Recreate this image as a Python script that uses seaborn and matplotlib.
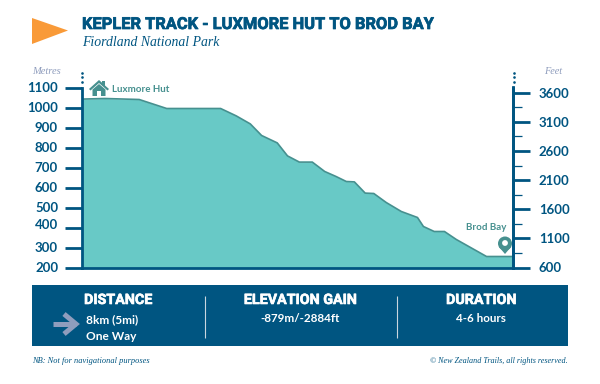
import matplotlib
matplotlib.use("Agg")
import matplotlib.pyplot as plt
import matplotlib.patheffects as pe
import seaborn as sns
import pandas as pd
from matplotlib.patches import Polygon, Rectangle, Circle
from matplotlib.transforms import ScaledTranslation

title = "KEPLER TRACK - LUXMORE HUT TO BROD BAY"
subtitle = "Fiordland National Park"
distance_km = [0, 0.42, 1.06, 1.57, 2.57, 2.86, 3.12, 3.33, 3.62, 3.81, 4.03, 4.27, 4.5, 4.71, 4.9, 5.05,
               5.25, 5.41, 5.64, 5.92, 6.22, 6.33, 6.53, 6.72, 6.94, 7.5, 8.0]
elevation_m = [1042, 1045, 1040, 995, 995, 958, 918, 860, 823, 758, 727, 727, 680, 655, 630, 628,
               572, 570, 525, 480, 450, 405, 380, 380, 340, 255, 255]
metre_ticks = [200, 300, 400, 500, 600, 700, 800, 900, 1000, 1100]
feet_major = [600, 1100, 1600, 2100, 2600, 3100, 3600]
feet_minor = [850, 1350, 1850, 2350, 2850, 3350]
panel_heads = ["DISTANCE", "ELEVATION GAIN", "DURATION"]
panel_lines = [["8km (5mi)", "One Way"], ["-879m/-2884ft"], ["4-6 hours"]]

NAVY = "#005581"
TEAL = "#68C9C6"
DARK_TEAL = "#46908F"
ORANGE = "#F99A38"
GREY = "#8F9DBD"
SANS = "Lato"
HEAVY = "Roboto"
SERIF = "Liberation Serif"

sns.set_theme(style="white")
plt.rcParams["font.family"] = [SANS, "DejaVu Sans"]

W, H = 600, 384
fig = plt.figure(figsize=(6, 3.84), dpi=100, facecolor="white")
L, R, T, B = 82.0, 513.5, 87.5, 267.5
ax = fig.add_axes([L / W, 1 - B / H, (R - L) / W, (B - T) / H])
df = pd.DataFrame({"km": distance_km, "m": elevation_m})
ax.fill_between(df["km"], df["m"], 200, color=TEAL, lw=0, zorder=1)
sns.lineplot(data=df, x="km", y="m", ax=ax, color=DARK_TEAL, lw=1.2, zorder=2, errorbar=None, sort=False)
ax.set_xlim(0, 8)
ax.set_ylim(200, 1100)
ax.set_xticks([])
ax.set_xlabel("")
ax.set_ylabel("")
ax.set_yticks(metre_ticks)
ax.set_yticklabels([str(t) for t in metre_ticks])
ax.tick_params(axis="y", length=12.2, width=2, color=NAVY, labelcolor=NAVY, pad=5, left=True, labelsize=9.5)
for lab in ax.get_yticklabels():
    lab.set_fontweight("bold")
    lab.set_family(SANS)
for t, lab in zip(metre_ticks, ax.get_yticklabels()):
    if t == 400:
        lab.set_transform(lab.get_transform() + ScaledTranslation(0, 3.5 / 100, fig.dpi_scale_trans))
ax.spines["top"].set_visible(False)
for s in ["left", "bottom", "right"]:
    ax.spines[s].set_color(NAVY)
    ax.spines[s].set_linewidth(2)
    ax.spines[s].set_visible(True)

axr = ax.twinx()
axr.set_ylim(600, 3689)
axr.set_yticks(feet_major)
axr.set_yticklabels([str(t) for t in feet_major])
axr.set_yticks(feet_minor, minor=True)
axr.tick_params(axis="y", which="major", length=12.2, width=2, color=NAVY, labelcolor=NAVY, pad=6, right=True, labelsize=9.5)
axr.tick_params(axis="y", which="minor", length=6.5, width=0.9, color=NAVY, right=True)
for lab in axr.get_yticklabels():
    lab.set_fontweight("bold")
    lab.set_family(SANS)
axr.grid(False)
ax.grid(False)
for s in ["top", "left", "bottom"]:
    axr.spines[s].set_visible(False)
axr.spines["right"].set_color(NAVY)
axr.spines["right"].set_linewidth(2)

# overlay in pixel coordinates for the infographic furniture
ov = fig.add_axes([0, 0, 1, 1], zorder=5)
ov.set_xlim(0, W)
ov.set_ylim(H, 0)
ov.axis("off")
ov.patch.set_alpha(0)

thick = [pe.withStroke(linewidth=0.5, foreground=NAVY)]
thick_w = [pe.withStroke(linewidth=0.45, foreground="white")]

ov.add_patch(Polygon([(32, 18), (68, 30.5), (32, 44)], color=ORANGE, lw=0))
ov.text(82, 24.5, title, color=NAVY, fontsize=11.85, fontweight="bold", va="center", ha="left", family=HEAVY, path_effects=thick)
ov.text(82, 42, subtitle, color=NAVY, fontsize=9.9, style="italic", va="center", ha="left", family=SERIF)
ov.text(32, 71, "Metres", color=GREY, fontsize=7.6, style="italic", va="center", ha="left", family=SERIF)
ov.text(544, 71.5, "Feet", color=GREY, fontsize=7.4, style="italic", va="center", ha="left", family=SERIF)

for x in (82, 514):
    ov.scatter([x, x, x], [72.5, 77.3, 82.3], s=3.6, color=NAVY, lw=0)

# house icon
ov.add_patch(Polygon([(89, 89), (99, 80), (102, 82.7), (102, 81), (105, 81), (105, 85.5), (109, 89), (107.5, 90.5),
                      (99, 83), (90.5, 90.5)], color=DARK_TEAL, lw=0))
ov.add_patch(Polygon([(92.5, 89.5), (99, 84), (105.5, 89.5), (105.5, 96), (101, 96), (101, 91), (97, 91), (97, 96),
                      (92.5, 96)], color=DARK_TEAL, lw=0))
ov.text(112, 90, "Luxmore Hut", color=DARK_TEAL, fontsize=7.0, fontweight="bold", va="center", ha="left", family=SANS)

# pin icon
ov.add_patch(Polygon([(498.6, 246.5), (505, 254), (511.4, 246.5)], color=DARK_TEAL, lw=0))
ov.add_patch(Circle((505, 243.5), 7, color=DARK_TEAL, lw=0))
ov.add_patch(Circle((505, 243), 2.9, color="white", lw=0))
ov.text(486.5, 228, "Brod Bay", color=DARK_TEAL, fontsize=7.0, fontweight="bold", va="center", ha="center", family=SANS)

# info panel
ov.add_patch(Rectangle((32, 284.5), 536, 61.5, color=NAVY, lw=0))
for x in (204.5, 396.7):
    ov.plot([x, x], [295.7, 338], color="#C9D6DF", lw=0.8, solid_capstyle="butt")
ov.plot([53, 76], [324, 324], color=GREY, lw=3.6, solid_capstyle="butt")
ov.plot([64, 76, 64], [314, 324, 334], color=GREY, lw=3.6, solid_joinstyle="miter", solid_capstyle="butt")

ov.text(118, 300, panel_heads[0], color="white", fontsize=10.3, fontweight="bold", va="center", ha="center", family=HEAVY, path_effects=thick_w)
ov.text(86, 319.5, panel_lines[0][0], color="white", fontsize=8.6, fontweight="bold", va="center", ha="left", family=SANS)
ov.text(86, 336, panel_lines[0][1], color="white", fontsize=8.6, fontweight="bold", va="center", ha="left", family=SANS)
ov.text(300, 300, panel_heads[1], color="white", fontsize=10.3, fontweight="bold", va="center", ha="center", family=HEAVY, path_effects=thick_w)
ov.text(300, 318, panel_lines[1][0], color="white", fontsize=8.4, fontweight="bold", va="center", ha="center", family=SANS)
ov.text(481, 300, panel_heads[2], color="white", fontsize=10.3, fontweight="bold", va="center", ha="center", family=HEAVY, path_effects=thick_w)
ov.text(481, 318, panel_lines[2][0], color="white", fontsize=8.4, fontweight="bold", va="center", ha="center", family=SANS)

ov.text(32, 361, "NB: Not for navigational purposes", color=NAVY, fontsize=6.0, style="italic", va="center", ha="left", family=SERIF)
ov.text(568, 361, "© New Zealand Trails, all rights reserved.", color=NAVY, fontsize=5.9, style="italic", va="center", ha="right", family=SERIF)

fig.savefig("out.png", dpi=100, facecolor="white")
